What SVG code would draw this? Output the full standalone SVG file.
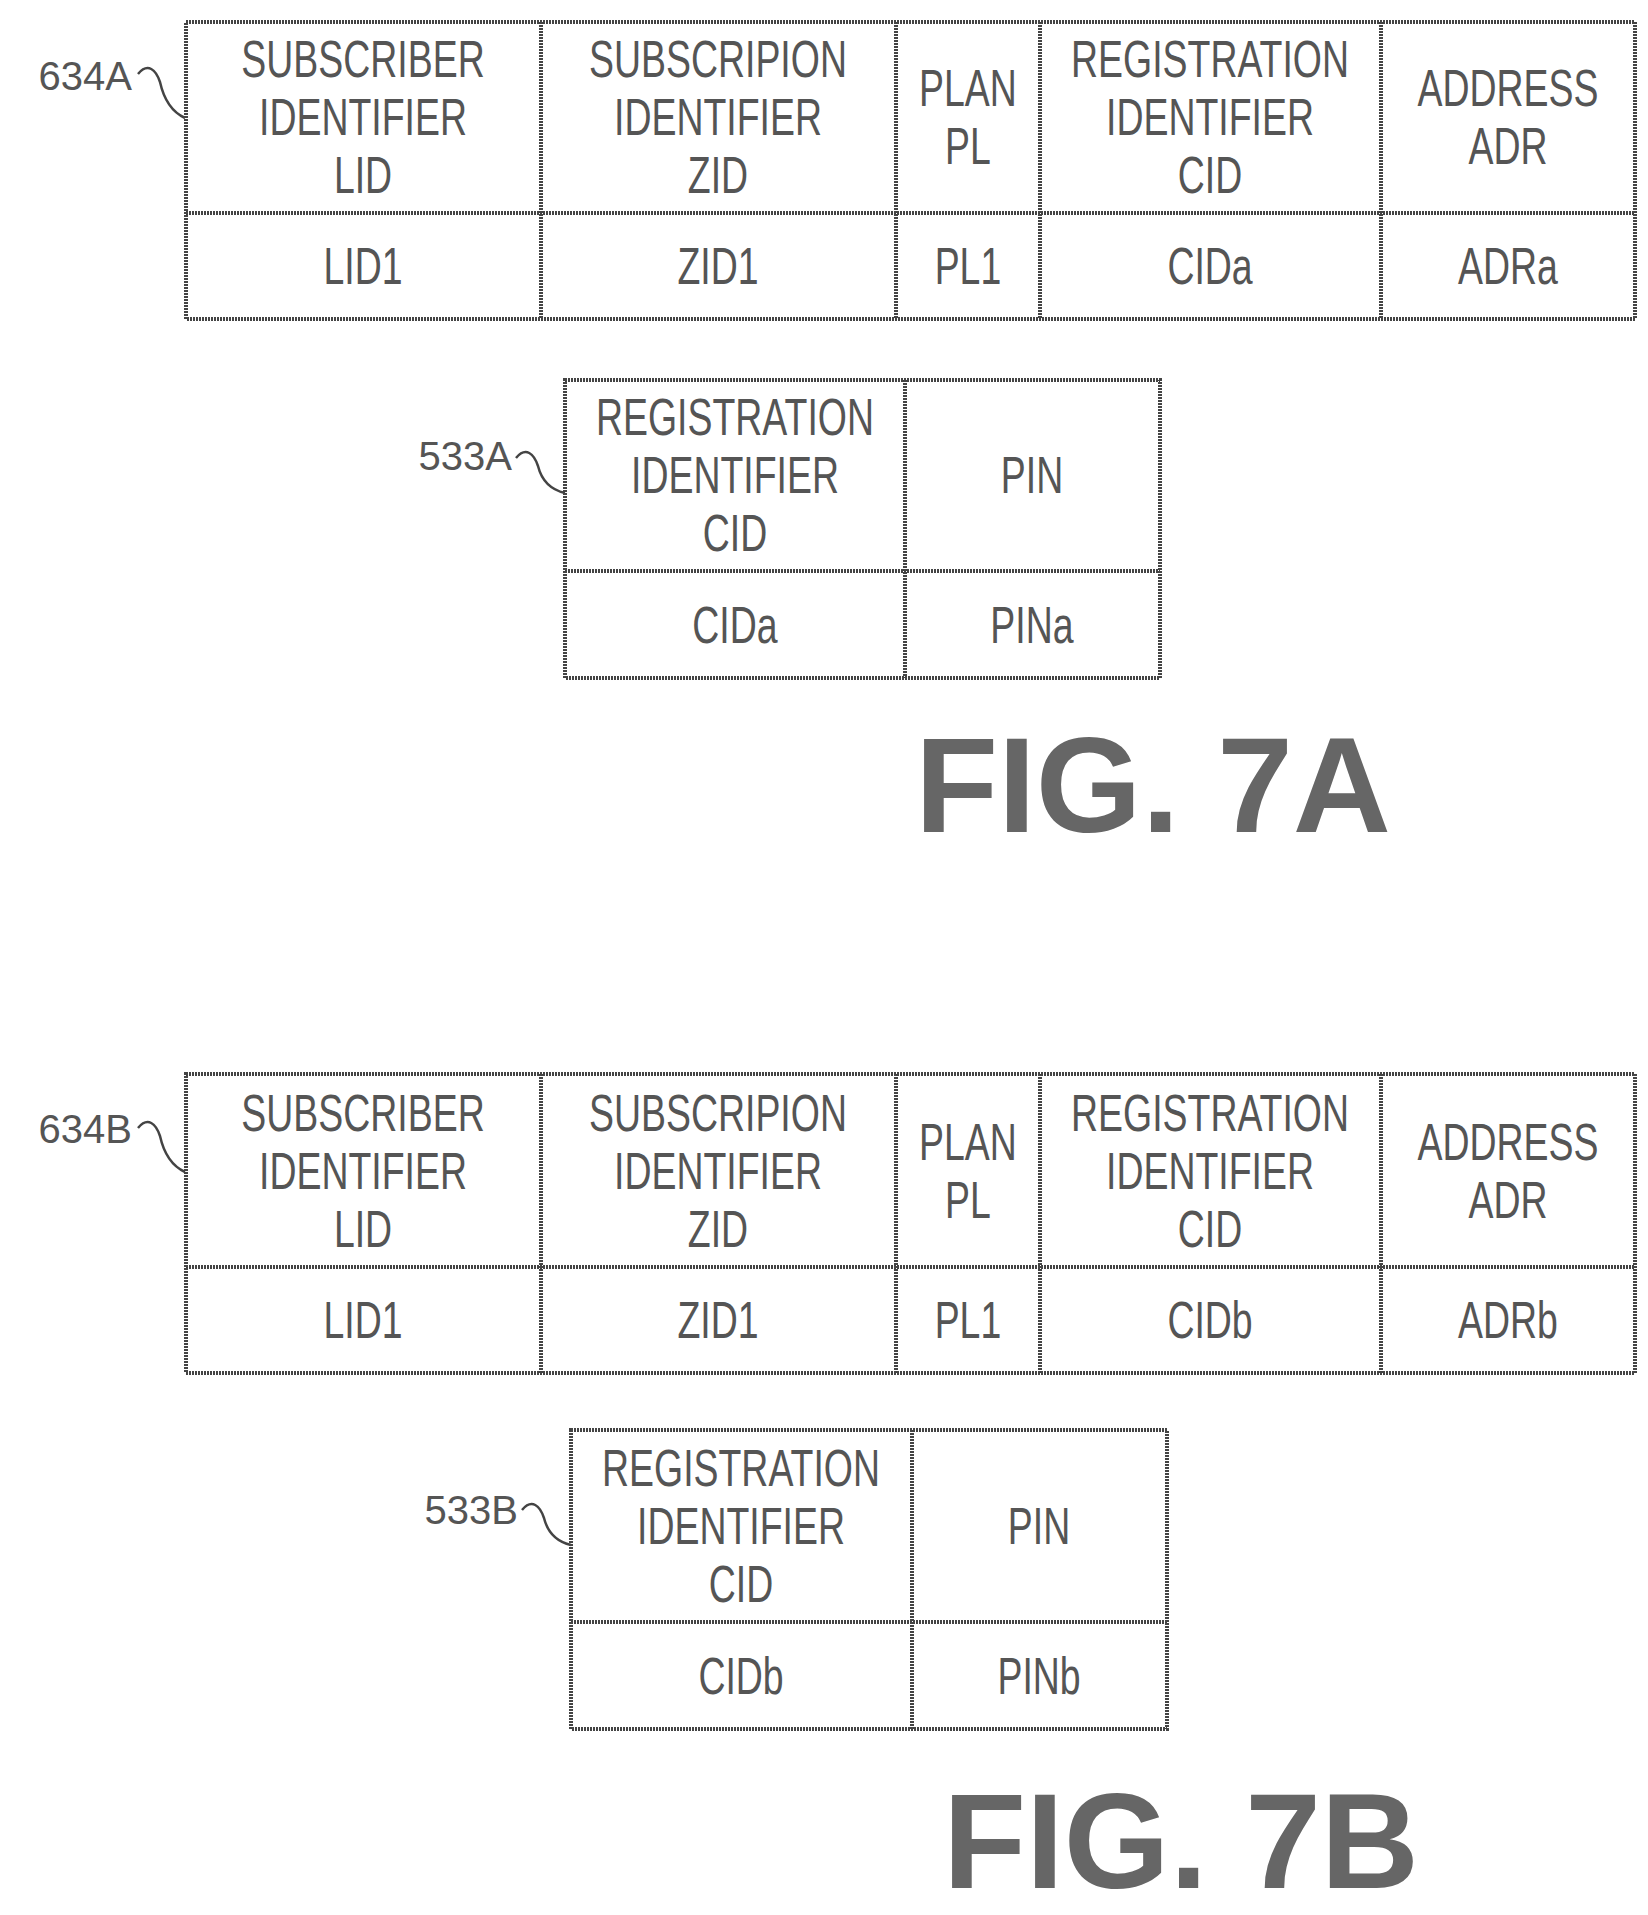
<svg xmlns="http://www.w3.org/2000/svg" width="1648" height="1915" viewBox="0 0 1648 1915">
<style>
.c{fill:none;stroke:#444;stroke-width:4;stroke-dasharray:2 1}
.t{font-family:"Liberation Sans",sans-serif;font-size:52px;fill:#555;text-anchor:middle;dominant-baseline:central}
.l{font-family:"Liberation Sans",sans-serif;font-size:40px;fill:#555;text-anchor:end;dominant-baseline:central}
.f{font-family:"Liberation Sans",sans-serif;font-size:136px;font-weight:bold;fill:#666}
.s{fill:none;stroke:#444;stroke-width:2.5}
</style>
<rect width="1648" height="1915" fill="#fff"/>
<g id="t634A">
<rect class="c" x="186" y="22" width="1449" height="297"/>
<path class="c" d="M186 213H1635M541 22V319M896 22V319M1040 22V319M1381 22V319"/>
<g transform="scale(0.72,1)">
<text class="t" x="504.2" y="59">SUBSCRIBER</text><text class="t" x="504.2" y="117">IDENTIFIER</text><text class="t" x="504.2" y="175">LID</text>
<text class="t" x="997.2" y="59">SUBSCRIPION</text><text class="t" x="997.2" y="117">IDENTIFIER</text><text class="t" x="997.2" y="175">ZID</text>
<text class="t" x="1344.4" y="88">PLAN</text><text class="t" x="1344.4" y="146">PL</text>
<text class="t" x="1680.6" y="59">REGISTRATION</text><text class="t" x="1680.6" y="117">IDENTIFIER</text><text class="t" x="1680.6" y="175">CID</text>
<text class="t" x="2094.4" y="88">ADDRESS</text><text class="t" x="2094.4" y="146">ADR</text>
<text class="t" x="504.2" y="266">LID1</text><text class="t" x="997.2" y="266">ZID1</text><text class="t" x="1344.4" y="266">PL1</text><text class="t" x="1680.6" y="266">CIDa</text><text class="t" x="2094.4" y="266">ADRa</text>
</g>
</g>
<g id="t533A">
<rect class="c" x="565" y="380" width="595" height="298"/>
<path class="c" d="M565 571H1160M905 380V678"/>
<g transform="scale(0.72,1)">
<text class="t" x="1020.8" y="417">REGISTRATION</text><text class="t" x="1020.8" y="475">IDENTIFIER</text><text class="t" x="1020.8" y="533">CID</text>
<text class="t" x="1433.3" y="475">PIN</text>
<text class="t" x="1020.8" y="625">CIDa</text><text class="t" x="1433.3" y="625">PINa</text>
</g>
</g>
<g id="t634B">
<rect class="c" x="186" y="1074" width="1449" height="299"/>
<path class="c" d="M186 1267H1635M541 1074V1373M896 1074V1373M1040 1074V1373M1381 1074V1373"/>
<g transform="scale(0.72,1)">
<text class="t" x="504.2" y="1113">SUBSCRIBER</text><text class="t" x="504.2" y="1171">IDENTIFIER</text><text class="t" x="504.2" y="1229">LID</text>
<text class="t" x="997.2" y="1113">SUBSCRIPION</text><text class="t" x="997.2" y="1171">IDENTIFIER</text><text class="t" x="997.2" y="1229">ZID</text>
<text class="t" x="1344.4" y="1142">PLAN</text><text class="t" x="1344.4" y="1200">PL</text>
<text class="t" x="1680.6" y="1113">REGISTRATION</text><text class="t" x="1680.6" y="1171">IDENTIFIER</text><text class="t" x="1680.6" y="1229">CID</text>
<text class="t" x="2094.4" y="1142">ADDRESS</text><text class="t" x="2094.4" y="1200">ADR</text>
<text class="t" x="504.2" y="1320">LID1</text><text class="t" x="997.2" y="1320">ZID1</text><text class="t" x="1344.4" y="1320">PL1</text><text class="t" x="1680.6" y="1320">CIDb</text><text class="t" x="2094.4" y="1320">ADRb</text>
</g>
</g>
<g id="t533B">
<rect class="c" x="571" y="1430" width="596" height="299"/>
<path class="c" d="M571 1622H1167M912 1430V1729"/>
<g transform="scale(0.72,1)">
<text class="t" x="1029.2" y="1468">REGISTRATION</text><text class="t" x="1029.2" y="1526">IDENTIFIER</text><text class="t" x="1029.2" y="1584">CID</text>
<text class="t" x="1443.1" y="1526">PIN</text>
<text class="t" x="1029.2" y="1676">CIDb</text><text class="t" x="1443.1" y="1676">PINb</text>
</g>
</g>
<g id="connectors">
<path class="s" d="M138 74C148 62 156 70 160 82C164 100 172 112 185 118"/>
<path class="s" d="M516 458C526 446 534 454 538 466C542 482 552 490 565 493"/>
<path class="s" d="M138 1128C148 1116 156 1124 160 1136C164 1154 172 1166 185 1172"/>
<path class="s" d="M522 1510C532 1498 540 1506 544 1518C548 1534 558 1542 571 1545"/>
</g>
<g id="labels">
<text class="l" x="132" y="76">634A</text>
<text class="l" x="512" y="456">533A</text>
<text class="l" x="132" y="1129">634B</text>
<text class="l" x="518" y="1510">533B</text>
<text class="f" x="915" y="832">FIG. 7A</text>
<text class="f" x="943" y="1888">FIG. 7B</text>
</g>
</svg>
